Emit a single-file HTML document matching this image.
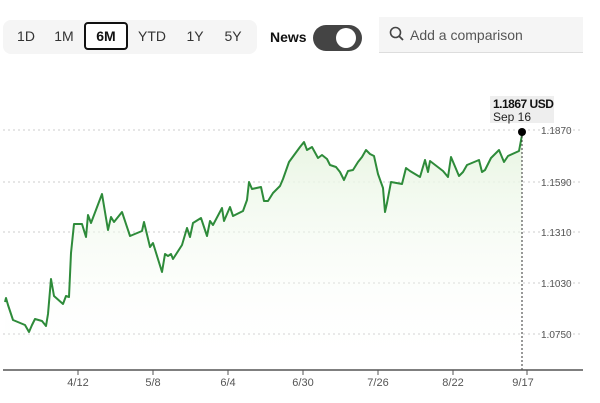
<!DOCTYPE html>
<html><head><meta charset="utf-8"><style>
body{margin:0;width:600px;height:403px;background:#fff;font-family:"Liberation Sans",sans-serif;overflow:hidden;position:relative}
.grp{position:absolute;left:3px;top:20px;width:254px;height:34px;background:#f5f5f5;border-radius:8px}
.b{position:absolute;top:25px;font-size:14px;color:#333;width:40px;text-align:center;line-height:22px}
.sel{position:absolute;left:84px;top:22px;width:40px;height:24px;border:2px solid #111;border-radius:4px;background:#fff}
</style></head><body>
<div class="grp"></div>
<div class="sel"></div>
<div class="b" style="left:6px">1D</div>
<div class="b" style="left:44px">1M</div>
<div class="b" style="left:86px;font-weight:bold;color:#111">6M</div>
<div class="b" style="left:132px">YTD</div>
<div class="b" style="left:175px">1Y</div>
<div class="b" style="left:213px">5Y</div>
<div style="position:absolute;left:270px;top:29px;font-size:14px;font-weight:bold;color:#111">News</div>
<div style="position:absolute;left:313px;top:25px;width:49px;height:26px;border-radius:13px;background:#444"></div>
<div style="position:absolute;left:336px;top:28px;width:20px;height:20px;border-radius:50%;background:#fff"></div>
<div style="position:absolute;left:379px;top:17px;width:204px;height:35px;background:#f5f5f5;border-bottom:1px solid #ddd"></div>
<svg style="position:absolute;left:389px;top:26px" width="16" height="16"><circle cx="6.5" cy="6.5" r="5" fill="none" stroke="#444" stroke-width="1.6"/><line x1="10" y1="10" x2="14" y2="14" stroke="#444" stroke-width="1.8"/></svg>
<div style="position:absolute;left:410px;top:27px;font-size:14px;color:#555">Add a comparison</div>
<svg style="position:absolute;left:0;top:0" width="600" height="403">
<defs><linearGradient id="g" x1="0" y1="0" x2="0" y2="1"><stop offset="0" stop-color="#e8f5e2"/><stop offset="1" stop-color="#fff" stop-opacity="0"/></linearGradient></defs>
<g stroke="#ccc" stroke-dasharray="2,3" stroke-width="1">
<line x1="3" y1="130" x2="583" y2="130"/><line x1="3" y1="182" x2="583" y2="182"/><line x1="3" y1="232" x2="583" y2="232"/><line x1="3" y1="283" x2="583" y2="283"/><line x1="3" y1="334" x2="583" y2="334"/></g>
<g font-size="10" fill="#555"><text x="541" y="134">1.1870</text><text x="541" y="186">1.1590</text><text x="541" y="236">1.1310</text><text x="541" y="287">1.1030</text><text x="541" y="338">1.0750</text></g>
<polygon fill="url(#g)" points="5,370 5,302 6,298 8,305 13,320 25,325 29,332 32,325 35,319 42,321 46,326 48,314 51,279 54,296 63,304 66,296 69,297 71,253 74,224 82,224 86,237 88,215 91,223 102,194 108,230 111,217 114,222 122,212 130,236 142,231 144,222 150,247 153,243 162,272 165,254 168,256 171,254 173,259 182,245 187,228 190,237 193,223 201,218 207,236 210,221 213,225 222,208 224,221 230,207 233,216 243,211 247,200 249,182 252,189 261,187 264,201 268,201 273,193 280,186 283,179 289,162 300,147 304,142 307,150 312,147 318,158 322,155 327,159 330,165 336,167 340,172 344,180 348,171 353,170 358,162 362,157 366,150 370,154 374,156 378,174 383,188 385,212 387,203 391,182 402,184 406,168 410,171 420,177 425,160 428,172 430,161 443,171 448,177 451,157 459,176 463,172 467,165 479,160 482,172 485,170 491,158 499,150 504,162 508,156 519,151 522,135 522,370"/>
<polyline fill="none" stroke="#2e8b3a" stroke-width="2" stroke-linejoin="round" points="5,302 6,298 8,305 13,320 25,325 29,332 32,325 35,319 42,321 46,326 48,314 51,279 54,296 63,304 66,296 69,297 71,253 74,224 82,224 86,237 88,215 91,223 102,194 108,230 111,217 114,222 122,212 130,236 142,231 144,222 150,247 153,243 162,272 165,254 168,256 171,254 173,259 182,245 187,228 190,237 193,223 201,218 207,236 210,221 213,225 222,208 224,221 230,207 233,216 243,211 247,200 249,182 252,189 261,187 264,201 268,201 273,193 280,186 283,179 289,162 300,147 304,142 307,150 312,147 318,158 322,155 327,159 330,165 336,167 340,172 344,180 348,171 353,170 358,162 362,157 366,150 370,154 374,156 378,174 383,188 385,212 387,203 391,182 402,184 406,168 410,171 420,177 425,160 428,172 430,161 443,171 448,177 451,157 459,176 463,172 467,165 479,160 482,172 485,170 491,158 499,150 504,162 508,156 519,151 522,135"/>
<line x1="522" y1="132" x2="522" y2="370" stroke="#333" stroke-dasharray="2,2"/>
<line x1="3" y1="370" x2="583" y2="370" stroke="#555" stroke-width="1.5"/>
<g stroke="#555"><line x1="78" y1="370" x2="78" y2="375"/><line x1="153" y1="370" x2="153" y2="375"/><line x1="228" y1="370" x2="228" y2="375"/><line x1="303" y1="370" x2="303" y2="375"/><line x1="378" y1="370" x2="378" y2="375"/><line x1="453" y1="370" x2="453" y2="375"/><line x1="527" y1="370" x2="527" y2="375"/></g>
<g font-size="11" fill="#555" text-anchor="middle"><text x="78" y="386">4/12</text><text x="153" y="386">5/8</text><text x="228" y="386">6/4</text><text x="303" y="386">6/30</text><text x="378" y="386">7/26</text><text x="453" y="386">8/22</text><text x="523" y="386">9/17</text></g>
<rect x="490" y="96" width="64" height="27" fill="#eee"/>
<text x="493" y="108" font-size="12" font-weight="bold" fill="#111" letter-spacing="-0.5">1.1867 USD</text>
<text x="493" y="121" font-size="12" fill="#222">Sep 16</text>
<circle cx="522" cy="132" r="4" fill="#000"/>
</svg>
</body></html>
